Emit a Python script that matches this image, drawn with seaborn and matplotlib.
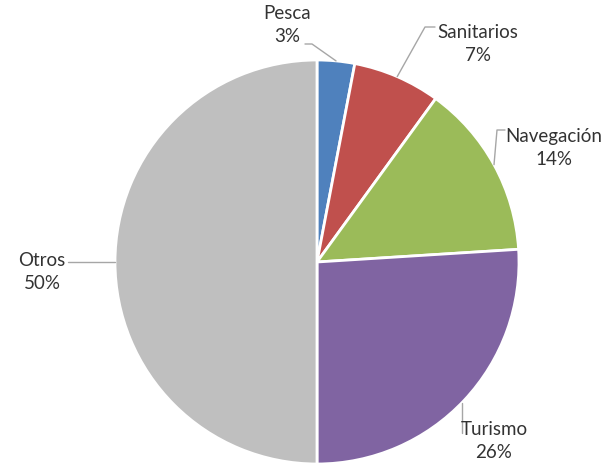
import numpy as np
import seaborn as sns
import matplotlib.pyplot as plt

sns.set_theme(style="white")
plt.rcParams['font.family'] = ['Lato', 'DejaVu Sans']

labels = ['Pesca', 'Sanitarios', 'Navegación', 'Turismo', 'Otros']
values = [3, 7, 14, 26, 50]
colors = ['#4F81BD', '#C0504D', '#9BBB59', '#8064A2', '#BFBFBF']

# label block centre and the elbow of the leader line (pixel coords, y from top)
label_pos = [(287, 25), (478, 44), (554, 148), (494, 441), (42, 272)]
elbows = [[(305, 45), (312, 45)], [(435, 28), (425, 28)], [(505, 131), (497, 131)],
          [(462, 434)], [(68, 263)]]

W, H = 604, 464
fig = plt.figure(figsize=(W / 100, H / 100), dpi=100)
ax = fig.add_axes([0, 0, 1, 1])
ax.set_aspect('equal')
ax.axis('off')

cx, cy, r = 317, H - 263, 202
wedges, _ = ax.pie(values, colors=colors, startangle=90, counterclock=False,
                   center=(cx, cy), radius=r,
                   wedgeprops=dict(edgecolor='white', linewidth=2))
ax.set_xlim(0, W)
ax.set_ylim(0, H)

for i, w in enumerate(wedges):
    mid = np.deg2rad((w.theta1 + w.theta2) / 2)
    ax_pt = (cx + r * np.cos(mid), cy + r * np.sin(mid))
    if labels[i] == 'Turismo':
        x0 = elbows[i][0][0]
        ax_pt = (x0, cy - np.sqrt(r ** 2 - (x0 - cx) ** 2))
    pts = [(x, H - y) for x, y in elbows[i]] + [ax_pt]
    xs, ys = zip(*pts)
    ax.plot(xs, ys, color='#A6A6A6', lw=1, zorder=5)
    lx, ly = label_pos[i]
    ax.text(lx, H - ly, f"{labels[i]}\n{values[i]}%", ha='center', va='center',
            fontsize=13.5, color='#333333', linespacing=1.4, zorder=6)

fig.savefig('out.png', dpi=100)
